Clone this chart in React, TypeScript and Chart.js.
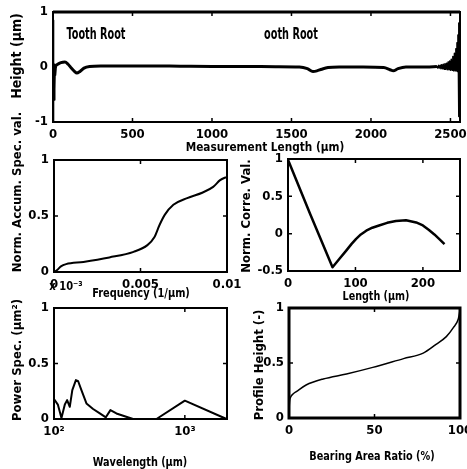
import React, { useEffect, useRef } from "react";
import { Chart, registerables } from "chart.js";
Chart.register(...registerables);

const W = 467;
const H = 469;
const COND = "'DejaVu Sans Condensed', 'Liberation Sans', Arial, sans-serif";

// ---- Profile (top) ----
const profileX = [0, 15, 30, 50, 75, 95, 115, 135, 150, 170, 195, 230, 300, 450, 600, 800, 1000, 1200, 1400, 1550, 1600, 1635, 1660, 1690, 1730, 1800, 1950, 2080, 2120, 2140, 2170, 2220, 2350, 2415];
const profileY = [0, 0.02, 0.05, 0.08, 0.09, 0.05, -0.02, -0.08, -0.11, -0.08, -0.02, 0.01, 0.02, 0.02, 0.02, 0.015, 0.01, 0.01, 0.005, 0, -0.03, -0.08, -0.07, -0.04, -0.01, 0, 0, -0.01, -0.05, -0.07, -0.03, 0, 0, 0.01];
const leftEdgeX = [0, 1, 2, 3, 4, 5, 6, 8, 10, 12, 14, 16, 20];
const leftEdgeY = [0.85, -1, 0.4, -0.95, 0.2, -0.8, 0.1, -0.6, 0.05, -0.4, 0.02, -0.15, 0];
const rightEdgeX = [2415, 2420, 2425, 2430, 2435, 2440, 2445, 2450, 2455, 2460, 2465, 2470, 2475, 2480, 2485, 2490, 2495, 2500, 2505, 2510, 2515, 2520, 2525, 2530, 2534, 2538, 2541, 2544, 2547, 2550, 2552, 2553, 2555];
const rightEdgeY = [0.02, -0.02, 0.03, -0.02, 0.03, -0.03, 0.04, -0.03, 0.05, -0.04, 0.06, -0.04, 0.07, -0.05, 0.09, -0.05, 0.11, -0.06, 0.14, -0.06, 0.19, -0.07, 0.25, -0.07, 0.33, -0.07, 0.44, -0.08, 0.58, -0.1, 0.8, -0.9, 0.1];
const profileXTicks = [0, 500, 1000, 1500, 2000, 2500];
const profileYTicks = [-1, 0, 1];

// ---- Accumulated spectrum ----
const freq = [0, 0.0002, 0.0004, 0.0007, 0.0017, 0.0032, 0.0046, 0.0054, 0.0058, 0.0061, 0.0064, 0.0069, 0.0077, 0.0086, 0.0092, 0.0096, 0.01];
const accum = [0, 0.02, 0.05, 0.07, 0.09, 0.13, 0.18, 0.24, 0.31, 0.42, 0.51, 0.6, 0.66, 0.71, 0.76, 0.82, 0.85];
const freqTicks = [0, 0.005, 0.01];
const accumTicks = [0, 0.5, 1];

// ---- Autocorrelation ----
const lag = [0, 33, 66, 76, 86, 94, 101, 108, 116, 125, 135, 147, 160, 175, 190, 200, 209, 217, 224, 232];
const corr = [0.99, 0.26, -0.45, -0.34, -0.23, -0.14, -0.07, -0.01, 0.04, 0.08, 0.11, 0.145, 0.17, 0.18, 0.15, 0.11, 0.05, -0.01, -0.07, -0.14];
const lagTicks = [0, 100, 200];
const corrTicks = [-0.5, 0, 0.5, 1];

// ---- Power spectrum ----
const wavelength = [100, 107, 114, 121, 126, 132, 138, 147, 153, 162, 177, 199, 224, 249, 270, 300, 347, 402, 607, 1000, 2083];
const power = [0.18, 0.13, 0.01, 0.13, 0.17, 0.11, 0.26, 0.35, 0.34, 0.26, 0.14, 0.09, 0.05, 0.015, 0.08, 0.05, 0.025, 0, 0, 0.165, 0];
const wavelengthTicks = [100, 1000];
const powerTicks = [0, 0.5, 1];

// ---- Bearing area curve ----
const bearingRatio = [0, 0.2, 1, 2.5, 4.3, 10, 20, 33.6, 49, 67, 78.5, 86, 92, 96, 99, 100];
const profileHeight = [0, 0.12, 0.19, 0.22, 0.24, 0.3, 0.355, 0.4, 0.46, 0.54, 0.59, 0.67, 0.74, 0.82, 0.9, 0.98];
const bearingTicks = [0, 50, 100];
const heightTicks = [0, 0.5, 1];

const AXIS_L = 40;
const AXIS_B = 22;

type Series = { x: number[]; y: number[]; width: number; smooth?: boolean };
type PlotSpec = {
  area: [number, number, number, number];
  xType: "linear" | "logarithmic";
  xMin: number; xMax: number; yMin: number; yMax: number;
  xTicks: number[]; yTicks: number[];
  xFmt: (v: number) => string; yFmt: (v: number) => string;
  series: Series[];
  frame: number; topFrame?: number;
};

const str = (v: number) => String(v);

const framePlugin = {
  id: "frame",
  afterDatasetsDraw(chart: any, _a: any, opts: any) {
    const { ctx, chartArea: a, scales } = chart;
    ctx.save();
    ctx.strokeStyle = "#000";
    ctx.lineWidth = opts.width;
    ctx.strokeRect(a.left, a.top, a.right - a.left, a.bottom - a.top);
    if (opts.top && opts.top > opts.width) {
      ctx.lineWidth = opts.top;
      ctx.beginPath();
      ctx.moveTo(a.left, a.top);
      ctx.lineTo(a.right, a.top);
      ctx.stroke();
    }
    ctx.lineWidth = 1.5;
    ctx.beginPath();
    for (const t of scales.x.ticks) {
      const px = scales.x.getPixelForValue(t.value);
      ctx.moveTo(px, a.bottom); ctx.lineTo(px, a.bottom - 4);
      ctx.moveTo(px, a.top); ctx.lineTo(px, a.top + 4);
    }
    for (const t of scales.y.ticks) {
      const py = scales.y.getPixelForValue(t.value);
      ctx.moveTo(a.left, py); ctx.lineTo(a.left + 4, py);
      ctx.moveTo(a.right, py); ctx.lineTo(a.right - 4, py);
    }
    ctx.stroke();
    ctx.restore();
  },
};

const tickFont = { family: COND, size: 13, weight: "bold" as const };

function buildConfig(p: PlotSpec): any {
  const [l, t, r, b] = p.area;
  return {
    type: "scatter",
    data: {
      datasets: p.series.map((s) => ({
        data: s.x.map((x, i) => ({ x, y: s.y[i] })),
        showLine: true,
        pointRadius: 0,
        borderColor: "#000",
        backgroundColor: "#000",
        borderWidth: s.width,
        cubicInterpolationMode: s.smooth ? "monotone" : "default",
        tension: 0,
        clip: 3,
        borderJoinStyle: "round",
      })),
    },
    options: {
      responsive: false,
      animation: false,
      devicePixelRatio: 1,
      events: [],
      layout: { padding: { left: l - AXIS_L, top: t, right: W - r, bottom: H - b - AXIS_B } },
      plugins: {
        legend: { display: false },
        tooltip: { enabled: false },
        frame: { width: p.frame, top: p.topFrame ?? p.frame },
      },
      scales: {
        x: {
          type: p.xType,
          min: p.xMin,
          max: p.xMax,
          afterFit: (s: any) => { s.height = AXIS_B; s.paddingLeft = 0; s.paddingRight = 0; },
          afterBuildTicks: (s: any) => { s.ticks = p.xTicks.map((v) => ({ value: v })); },
          grid: { display: false, drawTicks: false },
          border: { display: false },
          ticks: { padding: 5, color: "#000", font: tickFont, autoSkip: false, maxRotation: 0, minRotation: 0, callback: (v: any) => p.xFmt(Number(v)) },
        },
        y: {
          type: "linear",
          min: p.yMin,
          max: p.yMax,
          afterFit: (s: any) => { s.width = AXIS_L; s.paddingTop = 0; s.paddingBottom = 0; },
          afterBuildTicks: (s: any) => { s.ticks = p.yTicks.map((v) => ({ value: v })); },
          grid: { display: false, drawTicks: false },
          border: { display: false },
          ticks: { padding: 5, color: "#000", font: tickFont, autoSkip: false, callback: (v: any) => p.yFmt(Number(v)) },
        },
      },
    },
    plugins: [framePlugin],
  };
}

const specs: PlotSpec[] = [
  {
    area: [53, 12, 460, 122], xType: "linear", xMin: 0, xMax: 2560, yMin: -1, yMax: 1,
    xTicks: profileXTicks, yTicks: profileYTicks, xFmt: str, yFmt: str,
    series: [
      { x: profileX, y: profileY, width: 3, smooth: true },
      { x: leftEdgeX, y: leftEdgeY, width: 1.5 },
      { x: rightEdgeX, y: rightEdgeY, width: 1.5 },
    ],
    frame: 2, topFrame: 3,
  },
  {
    area: [54, 160, 227, 272], xType: "linear", xMin: 0, xMax: 0.01, yMin: 0, yMax: 1,
    xTicks: freqTicks, yTicks: accumTicks, xFmt: str, yFmt: str,
    series: [{ x: freq, y: accum, width: 2, smooth: true }],
    frame: 2,
  },
  {
    area: [288, 159, 460, 271], xType: "linear", xMin: 0, xMax: 255, yMin: -0.5, yMax: 1,
    xTicks: lagTicks, yTicks: corrTicks, xFmt: str, yFmt: str,
    series: [{ x: lag, y: corr, width: 2.5 }],
    frame: 2,
  },
  {
    area: [54, 308, 227, 419], xType: "logarithmic", xMin: 100, xMax: 2100, yMin: 0, yMax: 1,
    xTicks: wavelengthTicks, yTicks: powerTicks,
    xFmt: (v) => (v === 100 ? "10²" : v === 1000 ? "10³" : ""), yFmt: str,
    series: [{ x: wavelength, y: power, width: 2 }],
    frame: 2,
  },
  {
    area: [289, 308, 460, 418], xType: "linear", xMin: 0, xMax: 100, yMin: 0, yMax: 1,
    xTicks: bearingTicks, yTicks: heightTicks, xFmt: str, yFmt: str,
    series: [{ x: bearingRatio, y: profileHeight, width: 1.5, smooth: true }],
    frame: 3,
  },
];

const labels: { text: string; x: number; y: number; rot?: boolean; size?: number; sx?: number }[] = [
  { text: "Tooth Root", x: 96, y: 34, size: 15, sx: 0.72 },
  { text: "ooth Root", x: 291, y: 34, size: 15, sx: 0.72 },
  { text: "Height (μm)", x: 16, y: 56, rot: true, size: 14 },
  { text: "Measurement Length (μm)", x: 265, y: 146, sx: 0.9 },
  { text: "Norm. Accum. Spec. val.", x: 16, y: 192, rot: true },
  { text: "x 10⁻³", x: 66, y: 285, sx: 0.85 },
  { text: "Frequency (1/μm)", x: 141, y: 292, sx: 0.84 },
  { text: "Norm. Corre. Val.", x: 245, y: 216, rot: true },
  { text: "Length (μm)", x: 376, y: 295, sx: 0.82 },
  { text: "Power Spec. (μm²)", x: 16, y: 360, rot: true },
  { text: "Wavelength (μm)", x: 140, y: 461, sx: 0.83 },
  { text: "Profile Height (-)", x: 258, y: 365, rot: true },
  { text: "Bearing Area Ratio (%)", x: 372, y: 455, sx: 0.83 },
];

function Plot({ spec }: { spec: PlotSpec }) {
  const ref = useRef<HTMLCanvasElement>(null);
  useEffect(() => {
    const chart = new Chart(ref.current as HTMLCanvasElement, buildConfig(spec));
    return () => chart.destroy();
  }, [spec]);
  return (
    <canvas
      ref={ref}
      width={W}
      height={H}
      style={{ position: "absolute", left: 0, top: 0, width: W, height: H }}
    />
  );
}

export default function App() {
  return (
    <div style={{ position: "fixed", left: 0, top: 0, width: W, height: H, background: "#fff", overflow: "hidden" }}>
      {specs.map((s, i) => (
        <Plot key={i} spec={s} />
      ))}
      {labels.map((lb, i) => (
        <div
          key={"l" + i}
          style={{
            position: "absolute",
            left: lb.x,
            top: lb.y,
            transform: lb.rot
              ? "translate(-50%, -50%) rotate(-90deg)"
              : `translate(-50%, -50%) scale(${lb.sx ?? 1}, 1)`,
            whiteSpace: "nowrap",
            fontFamily: COND,
            fontWeight: "bold",
            fontSize: lb.size ?? 13,
            color: "#000",
            lineHeight: 1,
          }}
        >
          {lb.text}
        </div>
      ))}
    </div>
  );
}
